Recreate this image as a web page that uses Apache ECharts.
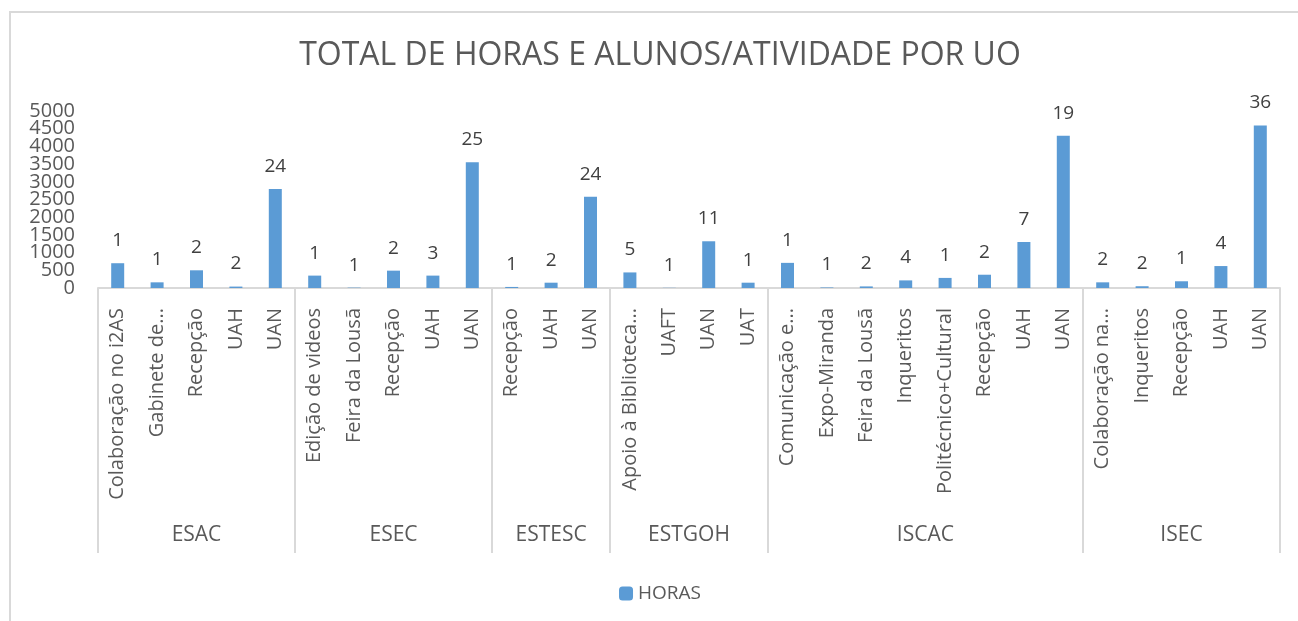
<!DOCTYPE html>
<html>
<head>
<meta charset="utf-8">
<script src="https://cdn.jsdelivr.net/npm/echarts@6/dist/echarts.min.js"></script>
<style>
  html, body { margin: 0; padding: 0; background: #fff; overflow: hidden; }
  #frame { position: absolute; left: 9px; top: 11px; width: 1400px; height: 700px; border: 2px solid #d9d9d9; }
  #chartmain { position: absolute; left: 0; top: 0; width: 1320px; height: 621px; }
</style>
</head>
<body>
<div id="frame"></div>
<div id="chartmain"></div>
<script>
// atividades (eixo de categorias)
var atividades = [
    'Colaboração no i2AS', 'Gabinete de...', 'Recepção', 'UAH', 'UAN',
    'Edição de videos', 'Feira da Lousã', 'Recepção', 'UAH', 'UAN',
    'Recepção', 'UAH', 'UAN',
    'Apoio à Biblioteca...', 'UAFT', 'UAN', 'UAT',
    'Comunicação e...', 'Expo-Miranda', 'Feira da Lousã', 'Inqueritos', 'Politécnico+Cultural', 'Recepção', 'UAH', 'UAN',
    'Colaboração na...', 'Inqueritos', 'Recepção', 'UAH', 'UAN'
];
// unidades organicas e numero de atividades de cada uma
var uos = ['ESAC', 'ESEC', 'ESTESC', 'ESTGOH', 'ISCAC', 'ISEC'];
var uoTamanho = [5, 5, 3, 4, 8, 5];
// total de horas (altura das barras)
var horas = [
    700, 160, 500, 40, 2800,
    350, 10, 490, 350, 3550,
    30, 150, 2580,
    440, 5, 1320, 150,
    710, 15, 45, 215, 285, 375, 1300, 4300,
    160, 50, 190, 620, 4590
];
// numero de alunos (rotulos por cima das barras)
var alunos = [
    1, 1, 2, 2, 24,
    1, 1, 2, 3, 25,
    1, 2, 24,
    5, 1, 11, 1,
    1, 1, 2, 4, 1, 2, 7, 19,
    2, 2, 1, 4, 36
];

var limites = [0];
var centros = {};
var acc = 0;
for (var i = 0; i < uos.length; i++) {
    centros[acc + uoTamanho[i] / 2] = uos[i];
    acc += uoTamanho[i];
    limites.push(acc);
}

var fonte = 'Open Sans';
var cinza = '#595959';

// os rotulos do eixo Y estao muito juntos: metade num eixo, metade noutro
function eixoY(par) {
    return {
        type: 'value',
        position: 'left',
        min: 0,
        max: 5000,
        interval: 500,
        axisLine: { show: false },
        axisTick: { show: false },
        splitLine: { show: false },
        axisLabel: {
            margin: 23,
            fontFamily: fonte,
            fontSize: 20,
            color: cinza,
            showMinLabel: true,
            showMaxLabel: true,
            formatter: function(v) { return ((v % 1000 === 0) === par) ? String(v) : ''; }
        }
    };
}

var myChart = echarts.init(document.getElementById('chartmain'));
var options = {
    animation: false,
    title: {
        text: 'TOTAL DE HORAS E ALUNOS/ATIVIDADE POR UO',
        left: 'center',
        top: 35,
        textStyle: { fontFamily: fonte, fontSize: 32, fontWeight: 'normal', color: cinza }
    },
    legend: {
        data: ['HORAS'],
        left: 'center',
        top: 579,
        itemWidth: 14,
        itemHeight: 14,
        itemGap: 6,
        textStyle: { fontFamily: fonte, fontSize: 19, color: cinza }
    },
    grid: { left: 98, right: 40, top: 111, bottom: 333, containLabel: false },
    xAxis: [{
        type: 'category',
        data: atividades,
        axisLine: { lineStyle: { color: '#d9d9d9', width: 2 } },
        axisTick: {
            show: true,
            length: 265,
            interval: function(index) { return limites.indexOf(index) >= 0; },
            lineStyle: { color: '#d9d9d9', width: 2 }
        },
        axisLabel: {
            interval: 0,
            rotate: 90,
            margin: 20,
            fontFamily: fonte,
            fontSize: 20,
            color: cinza
        }
    }, {
        type: 'value',
        position: 'bottom',
        offset: 236,
        min: 0,
        max: atividades.length,
        interval: 0.5,
        axisLine: { show: false },
        axisTick: { show: false },
        splitLine: { show: false },
        axisLabel: {
            margin: 1,
            fontFamily: fonte,
            fontSize: 21,
            color: cinza,
            formatter: function(v) { return centros[v] || ''; }
        }
    }],
    yAxis: [eixoY(true), eixoY(false)],
    series: [{
        name: 'HORAS',
        type: 'bar',
        xAxisIndex: 0,
        yAxisIndex: 0,
        data: horas,
        barWidth: 13,
        itemStyle: { color: '#5b9bd5' },
        label: {
            show: true,
            position: 'top',
            distance: 13,
            fontFamily: fonte,
            fontSize: 19,
            color: '#404040',
            formatter: function(p) { return alunos[p.dataIndex]; }
        }
    }]
};
myChart.setOption(options);
</script>
</body>
</html>
